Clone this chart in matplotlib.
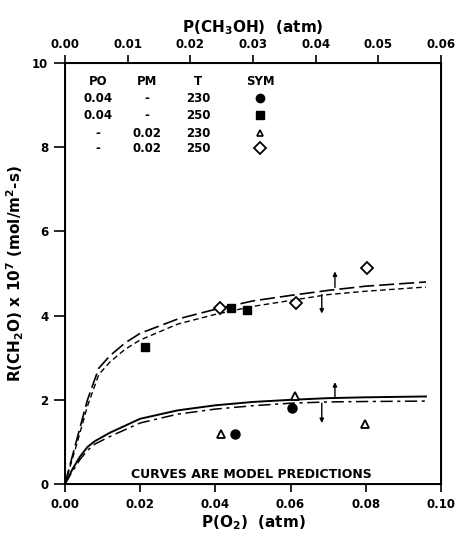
import numpy as np
import matplotlib.pyplot as plt

plt.rcParams['font.family'] = ['DejaVu Sans']
plt.rcParams['font.weight'] = 'bold'
plt.rcParams['axes.labelweight'] = 'bold'
plt.rcParams['mathtext.default'] = 'bf'

# --- 測定点 ---
circ_x = [0.0452, 0.0604]          # PO=0.04, T=230
circ_y = [1.19, 1.81]
sq_x = [0.0213, 0.0441, 0.0484]    # PO=0.04, T=250
sq_y = [3.26, 4.17, 4.14]
tri_x = [0.0415, 0.0612, 0.0798]   # PM=0.02, T=230
tri_y = [1.19, 2.10, 1.43]
dia_x = [0.0412, 0.0614, 0.0803]   # PM=0.02, T=250
dia_y = [4.17, 4.29, 5.14]

# --- モデル曲線 ---
up_x = [0, 0.003, 0.006, 0.009, 0.012, 0.016, 0.02, 0.03, 0.04, 0.05, 0.06, 0.07, 0.08, 0.096]
up_long = [0, 1.0, 2.0, 2.75, 3.05, 3.35, 3.58, 3.92, 4.15, 4.35, 4.48, 4.6, 4.7, 4.8]
up_short = [0, 0.9, 1.85, 2.6, 2.9, 3.2, 3.42, 3.8, 4.03, 4.22, 4.36, 4.5, 4.58, 4.68]
lo_x = [0, 0.002, 0.004, 0.006, 0.008, 0.012, 0.02, 0.03, 0.04, 0.05, 0.06, 0.07, 0.08, 0.096]
lo_solid = [0, 0.35, 0.65, 0.88, 1.02, 1.22, 1.55, 1.75, 1.87, 1.95, 2.0, 2.04, 2.06, 2.08]
lo_dash = [0, 0.3, 0.58, 0.8, 0.95, 1.13, 1.45, 1.66, 1.78, 1.86, 1.92, 1.95, 1.96, 1.97]

# 矢印 (x, y始点, y終点)
arrows = [(0.0718, 4.67, 5.05), (0.0683, 4.50, 4.05),
          (0.0718, 2.05, 2.42), (0.0683, 1.92, 1.45)]

# 凡例テーブル
tab_cols = [0.0088, 0.0218, 0.0354]
tab_rows = [9.17, 8.76, 8.33, 7.98]
tab_po = ['0.04', '0.04', '-', '-']
tab_pm = ['-', '-', '0.02', '0.02']
tab_t = ['230', '250', '230', '250']

fig = plt.figure(figsize=(4.57, 5.39), dpi=100)
ax = fig.add_axes([0.142, 0.102, 0.823, 0.781])
k = 'black'

ax.plot(up_x, up_long, color=k, lw=1.2, dashes=(9, 3))
ax.plot(up_x, up_short, color=k, lw=1.0, dashes=(4, 2.5))
ax.plot(lo_x, lo_solid, color=k, lw=1.4)
ax.plot(lo_x, lo_dash, color=k, lw=1.1, dashes=(8, 3, 2, 3))

ax.plot(circ_x, circ_y, 'o', color=k, ms=6.5)
ax.plot(sq_x, sq_y, 's', color=k, ms=6)
ax.plot(tri_x, tri_y, '^', mfc='white', mec=k, mew=1.3, ms=5.5)
ax.plot(dia_x, dia_y, 'D', mfc='white', mec=k, mew=1.3, ms=6.5)

for x, y0, y1 in arrows:
    ax.annotate('', xy=(x, y1), xytext=(x, y0),
                arrowprops=dict(arrowstyle='-|>', color=k, lw=1.0,
                                mutation_scale=6, shrinkA=0, shrinkB=0))

fs = 8.5
ax.text(tab_cols[0], 9.57, 'PO', ha='center', va='center', fontsize=fs)
ax.text(tab_cols[1], 9.57, 'PM', ha='center', va='center', fontsize=fs)
ax.text(tab_cols[2], 9.57, 'T', ha='center', va='center', fontsize=fs)
ax.text(0.0519, 9.57, 'SYM', ha='center', va='center', fontsize=fs)
for i, y in enumerate(tab_rows):
    ax.text(tab_cols[0], y, tab_po[i], ha='center', va='center', fontsize=fs)
    ax.text(tab_cols[1], y, tab_pm[i], ha='center', va='center', fontsize=fs)
    ax.text(tab_cols[2], y, tab_t[i], ha='center', va='center', fontsize=fs)
ax.plot([0.0519], [tab_rows[0]], 'o', color=k, ms=6)
ax.plot([0.0519], [tab_rows[1]], 's', color=k, ms=5.5)
ax.plot([0.0519], [tab_rows[2]], '^', mfc='white', mec=k, mew=1.2, ms=4.5)
ax.plot([0.0519], [tab_rows[3]], 'D', mfc='white', mec=k, mew=1.3, ms=6)

ax.text(0.0497, 0.22, 'CURVES ARE MODEL PREDICTIONS', ha='center', va='center',
        fontsize=9)

ax.set_xlim(0, 0.10)
ax.set_ylim(0, 10)
ax.set_xticks(np.arange(0, 0.101, 0.02))
ax.set_xticklabels(['0.00', '0.02', '0.04', '0.06', '0.08', '0.10'])
ax.set_yticks([0, 2, 4, 6, 8, 10])
ax.tick_params(direction='out', length=6, width=1.2, labelsize=8.5, pad=4)
ax.tick_params(axis='y', length=8)
for s in ax.spines.values():
    s.set_linewidth(1.4)
ax.set_xlabel('P(O$_2$)  (atm)', fontsize=11, labelpad=2)
ax.set_ylabel('R(CH$_2$O) x 10$^7$ (mol/m$^2$-s)', fontsize=11, labelpad=4)

ax2 = ax.twiny()
ax2.set_xlim(0, 0.06)
ax2.set_xticks(np.arange(0, 0.061, 0.01))
ax2.set_xticklabels(['0.00', '0.01', '0.02', '0.03', '0.04', '0.05', '0.06'])
ax2.tick_params(direction='out', length=6, width=1.2, labelsize=8.5, pad=3)
ax2.set_xlabel('P(CH$_3$OH)  (atm)', fontsize=11, labelpad=4)

fig.savefig('out.png', dpi=100)
